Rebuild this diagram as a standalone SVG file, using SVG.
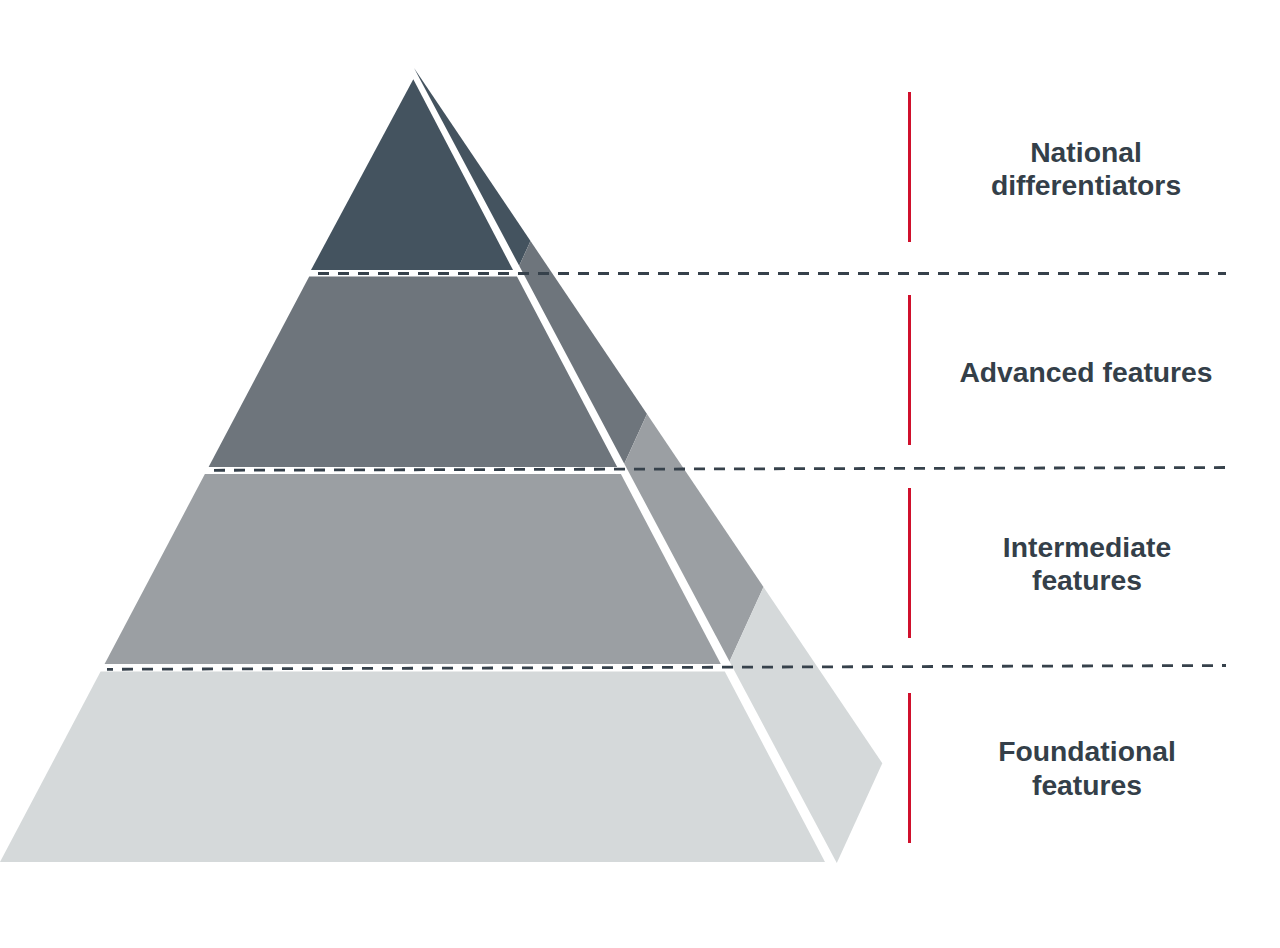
<svg xmlns="http://www.w3.org/2000/svg" width="1280" height="948" viewBox="0 0 1280 948">
<style>
.t{font-family:"Liberation Sans",Arial,sans-serif;font-weight:bold;font-size:28.3px;fill:#343f49;text-anchor:middle}
.d{stroke:#36414b;stroke-width:2.8;stroke-dasharray:11 9;fill:none}
.r{stroke:#d0102c;stroke-width:3;fill:none}
.c1{fill:#44535f}.c2{fill:#6e757c}.c3{fill:#9b9fa3}.c4{fill:#d5d9da}
</style>
<rect width="1280" height="948" fill="#ffffff"/>
<g id="level1">
<polygon class="c1" points="413.3,79.3 513,270 311,270"/>
<polygon class="c1" points="414,68 530.5,241 519.2,265.8"/>
</g>
<g id="level2">
<polygon class="c2" points="309.2,276.5 517,276.5 617.2,467 208.6,467"/>
<polygon class="c2" points="530.5,241 647,414 624.3,463.7 519.2,265.8"/>
</g>
<g id="level3">
<polygon class="c3" points="204.9,474 620.9,474 720.8,664 104.6,664"/>
<polygon class="c3" points="647,414 763.5,587 729.5,661.5 624.3,463.7"/>
</g>
<g id="level4">
<polygon class="c4" points="100.6,671.5 724.8,671.5 825,862 0,862"/>
<polygon class="c4" points="763.5,587 882.3,763.3 836.8,863.1 729.5,661.5"/>
</g>
<g id="connectors">
<line class="d" x1="318" y1="273.5" x2="1226" y2="273.5"/>
<line class="d" x1="214" y1="470.3" x2="1226" y2="467.5"/>
<line class="d" x1="107" y1="669.3" x2="1226" y2="665.5" stroke-dashoffset="5"/>
<line class="r" x1="909.5" y1="92" x2="909.5" y2="242"/>
<line class="r" x1="909.5" y1="295" x2="909.5" y2="445"/>
<line class="r" x1="909.5" y1="488" x2="909.5" y2="638"/>
<line class="r" x1="909.5" y1="693" x2="909.5" y2="843"/>
</g>
<g id="label1"><text class="t" x="1086" y="162">National</text><text class="t" x="1086" y="195">differentiators</text></g>
<g id="label2"><text class="t" x="1086" y="382">Advanced features</text></g>
<g id="label3"><text class="t" x="1087" y="557">Intermediate</text><text class="t" x="1087" y="590">features</text></g>
<g id="label4"><text class="t" x="1087" y="761">Foundational</text><text class="t" x="1087" y="795">features</text></g>
</svg>
